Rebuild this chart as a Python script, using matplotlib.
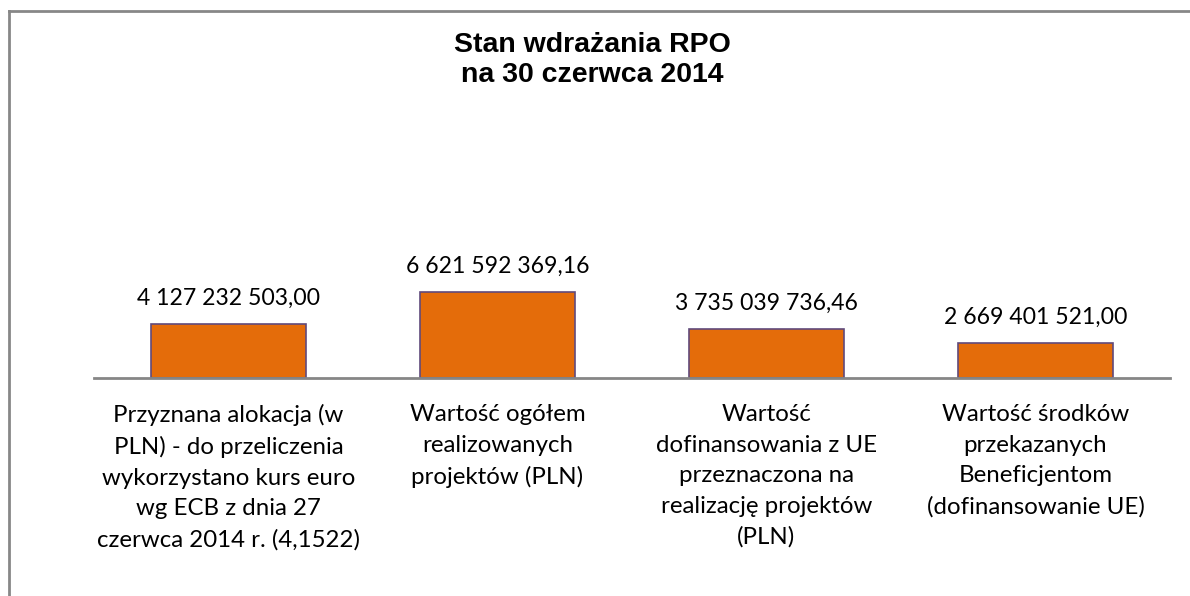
import matplotlib.pyplot as plt
from matplotlib.lines import Line2D

categories = [
    'Przyznana alokacja (w\nPLN) - do przeliczenia\nwykorzystano kurs euro\nwg ECB z dnia 27\nczerwca 2014 r. (4,1522)',
    'Wartość ogółem\nrealizowanych\nprojektów (PLN)',
    'Wartość\ndofinansowania z UE\nprzeznaczona na\nrealizację projektów\n(PLN)',
    'Wartość środków\nprzekazanych\nBeneficjentom\n(dofinansowanie UE)',
]
values = [4127232503.00, 6621592369.16, 3735039736.46, 2669401521.00]
value_labels = ['4 127 232 503,00', '6 621 592 369,16', '3 735 039 736,46', '2 669 401 521,00']

W, H = 1190, 596
fig = plt.figure(figsize=(W / 100, H / 100), dpi=100)

# plot area in pixels: left 94, right 1170, top 100, baseline 377.7
left, right, top, bottom = 94, 1170, 100, 377.7
ax = fig.add_axes([left / W, 1 - bottom / H, (right - left) / W, (bottom - top) / H])

x = range(len(values))
ax.bar(x, values, width=0.573, color='#E46C0A', edgecolor='#604A7B', linewidth=1.2, zorder=3)
ax.set_xlim(-0.5, len(values) - 0.5)
ax.set_ylim(0, (bottom - top) / 13.0 * 1e9)

for i, (v, lab) in enumerate(zip(values, value_labels)):
    ax.annotate(lab, (i, v), xytext=(0, 15), textcoords='offset pixels',
                ha='center', va='bottom', fontsize=16.6, family='Lato', color='#000000')

for s in ['left', 'right', 'top']:
    ax.spines[s].set_visible(False)
ax.spines['bottom'].set_color('#868686')
ax.spines['bottom'].set_linewidth(2)
ax.spines['bottom'].set_zorder(4)
ax.set_yticks([])
ax.set_xticks(list(x))
ax.set_xticklabels(categories, fontsize=17.3, family='Lato', linespacing=1.56)
ax.tick_params(axis='x', length=0, pad=19)

fig.text(592 / W, 1 - 60 / H, 'Stan wdrażania RPO\nna 30 czerwca 2014', ha='center', va='center',
         fontsize=20.5, fontweight='bold', family='Liberation Sans', linespacing=1.18)

# chart border (top and left edges visible)
fig.add_artist(Line2D([8.5 / W, 8.5 / W], [0, 1 - 10.5 / H], transform=fig.transFigure,
                      color='#878787', linewidth=2))
fig.add_artist(Line2D([8.5 / W, 1], [1 - 10.5 / H, 1 - 10.5 / H], transform=fig.transFigure,
                      color='#878787', linewidth=2))

fig.savefig('out.png', dpi=100, facecolor='white')
